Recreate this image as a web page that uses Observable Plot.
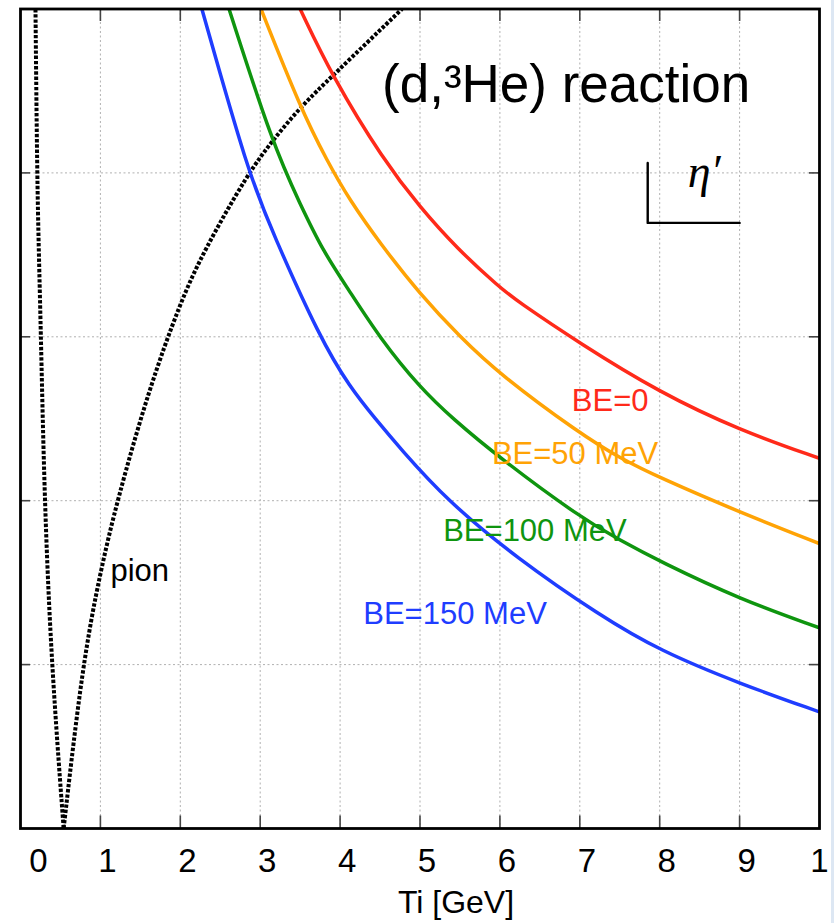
<!DOCTYPE html>
<html><head><meta charset="utf-8">
<script src="https://cdn.jsdelivr.net/npm/d3@7"></script>
<script src="https://cdn.jsdelivr.net/npm/@observablehq/plot@0.6"></script>
<style>
html,body{margin:0;padding:0;background:#fff;}
#chart{position:relative;width:834px;height:923px;overflow:hidden;}
#band{position:absolute;left:831px;top:0;width:3px;height:923px;background:#dde7f3;}
</style></head><body>
<div id="chart"><div id="band"></div></div>
<script>
// ---- data ----
const xTicks = [0, 1, 2, 3, 4, 5, 6, 7, 8, 9, 10];
const xTickLabels = ["0", "1", "2", "3", "4", "5", "6", "7", "8", "9", "1"];
const yTicks = [100, 200, 300, 400];
const seriesNames = ["BE=0", "BE=50 MeV", "BE=100 MeV", "BE=150 MeV"];
const seriesColors = ["#ff2a1a", "#ffa305", "#0f950f", "#1f3dff"];

// incident kinetic energy Ti [GeV] and momentum transfer q [MeV/c]
const tiBE0 = [3.5, 3.9, 4.54, 5.0, 5.46, 6.0, 6.21, 7.0, 8.0, 9.0, 9.99];
const qBE0  = [500, 459, 408, 379, 354, 330, 322, 296, 266, 243, 226];

const tiBE50 = [3.01, 3.5, 3.84, 4.125, 4.5, 5.0, 5.5, 6.0, 7.0, 7.5, 8.0, 9.0, 9.99];
const qBE50  = [500, 440, 407, 383, 357, 326, 300, 277, 241, 226, 214, 193, 174];

const tiBE100 = [2.61, 3.16, 3.5, 3.79, 4.09, 4.5, 5.0, 5.41, 6.0, 7.0, 7.5, 8.0, 9.0, 9.99];
const qBE100  = [500, 417, 381, 352, 330, 299, 269, 250, 226, 190, 176, 163, 140, 122.6];

const tiBE150 = [2.27, 2.85, 3.16, 3.75, 4.125, 4.44, 4.75, 5.34, 6.21, 7.25, 8.0, 9.0, 9.99];
const qBE150  = [500, 400, 363, 299, 269, 250, 232, 200, 165, 130, 108.5, 88.4, 71.3];

const pionLeftTi  = [0.1875, 0.208, 0.229, 0.256, 0.30, 0.3875, 0.54];
const pionLeftQ   = [500, 400, 352, 300, 200, 100, 0];
const pionRightTi = [0.54, 0.775, 1.0, 1.21, 1.6, 2.0, 2.29, 2.85, 3.16, 3.5, 3.9, 4.775];
const pionRightQ  = [0, 100, 157, 200, 267, 321, 352, 400, 420, 440, 459, 500];

// ---- tables built from the arrays ----
const beTi = [tiBE0, tiBE50, tiBE100, tiBE150];
const beQ = [qBE0, qBE50, qBE100, qBE150];
const beRows = seriesNames.flatMap((s, i) => beTi[i].map((t, j) => ({series: s, ti: t, q: beQ[i][j]})));
const pionRows = [
  ...pionLeftTi.map((t, j) => ({branch: "left", ti: t, q: pionLeftQ[j]})),
  ...pionRightTi.map((t, j) => ({branch: "right", ti: t, q: pionRightQ[j]}))
];
const inner = xTicks.slice(1, -1);
const fmt = d => xTickLabels[xTicks.indexOf(d)];

const sans = "'Liberation Sans', Arial, sans-serif";
const axisStyle = {tickSize: 0, tickPadding: 20, fontSize: 33, label: null, tickFormat: fmt};
const chart = Plot.plot({
  width: 834, height: 923,
  marginTop: 8.5, marginBottom: 95, marginLeft: 20, marginRight: 15,
  x: {domain: [0, 10]},
  y: {domain: [0, 500], axis: null},
  color: {domain: seriesNames, range: seriesColors},
  style: {fontFamily: sans, background: "transparent", color: "black"},
  marks: [
    Plot.gridX(inner, {stroke: "#b0b0b0", strokeOpacity: 1, strokeDasharray: "2,2.5", strokeWidth: 1}),
    Plot.gridY(yTicks, {stroke: "#b0b0b0", strokeOpacity: 1, strokeDasharray: "2,2.5", strokeWidth: 1}),
    Plot.line(pionRows, {x: "ti", y: "q", z: "branch", stroke: "black", strokeWidth: 4, strokeDasharray: "3.4,1.8", strokeLinecap: "butt", curve: "basis", clip: true}),
    Plot.line(beRows, {x: "ti", y: "q", z: "series", stroke: "series", strokeWidth: 3.5, curve: "basis", clip: true}),
    Plot.ruleX(inner, {x: d => d, insetTop: 807, stroke: "#444", strokeWidth: 1.6}),
    Plot.ruleX(inner, {x: d => d, insetBottom: 807, stroke: "#444", strokeWidth: 1.6}),
    Plot.ruleY(yTicks, {y: d => d, insetRight: 789, stroke: "#444", strokeWidth: 1.6}),
    Plot.ruleY(yTicks, {y: d => d, insetLeft: 789, stroke: "#444", strokeWidth: 1.6}),
    Plot.frame({stroke: "black", strokeWidth: 2.8}),
    Plot.axisX(xTicks.slice(1, -1), {...axisStyle, dx: 7}),
    Plot.axisX([0], {...axisStyle, dx: 18}),
    Plot.axisX([10], {...axisStyle, dx: 0}),
    Plot.text(["Ti [GeV]"], {x: 5.45, frameAnchor: "bottom", dy: 84, lineAnchor: "bottom", fontSize: 32, fill: "black"}),
    Plot.text(["(d,³He) reaction"], {x: 4.525, y: 443.5, textAnchor: "start", lineAnchor: "bottom", fontSize: 53, fill: "black"}),
    Plot.line([[7.85, 406], [7.85, 369.5], [9.0, 369.5]], {stroke: "black", strokeWidth: 2.4}),
    Plot.text(["η′"], {x: 8.35, y: 391.5, textAnchor: "start", lineAnchor: "bottom", fontSize: 46, fontStyle: "italic", fontFamily: "'Liberation Serif', 'Times New Roman', serif", fill: "black"}),
    Plot.text(["pion"], {x: 1.125, y: 151, textAnchor: "start", lineAnchor: "bottom", fontSize: 31, fill: "black"}),
    Plot.text([seriesNames[0]], {x: 6.9, y: 255, textAnchor: "start", lineAnchor: "bottom", fontSize: 31, fill: seriesColors[0]}),
    Plot.text([seriesNames[1]], {x: 5.9, y: 222.5, textAnchor: "start", lineAnchor: "bottom", fontSize: 31, fill: seriesColors[1]}),
    Plot.text([seriesNames[2]], {x: 5.29, y: 175.5, textAnchor: "start", lineAnchor: "bottom", fontSize: 31, fill: seriesColors[2]}),
    Plot.text([seriesNames[3]], {x: 4.29, y: 125, textAnchor: "start", lineAnchor: "bottom", fontSize: 31, fill: seriesColors[3]})
  ]
});
document.getElementById("chart").prepend(chart);
</script>
</body></html>
